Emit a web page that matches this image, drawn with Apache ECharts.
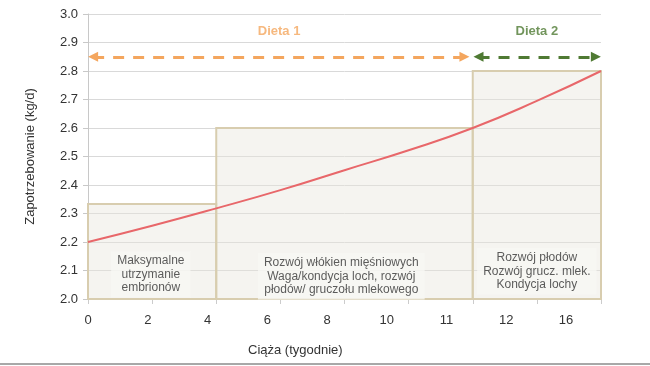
<!DOCTYPE html>
<html><head><meta charset="utf-8">
<script src="https://cdn.jsdelivr.net/npm/echarts@6/dist/echarts.min.js"></script>
<style>html,body{margin:0;padding:0;background:#fff}#c{width:650px;height:366px}</style>
</head><body><div id="c"></div>
<script>
// Data
var xTickLabels = ['0','2','4','6','8','10','11','12','16'];
var curveX = [0,1,2,3,4,5,6,7,8];
var curveY = [2.2,2.257,2.318,2.382,2.452,2.522,2.6,2.695,2.8];
var boxStart = [0,2,6];
var boxEnd = [2,6,8];
var boxTop = [2.333,2.6,2.8];
var boxText = ['Maksymalne\nutrzymanie\nembrionów','Rozwój włókien mięśniowych\nWaga/kondycja loch, rozwój\npłodów/ gruczołu mlekowego','Rozwój płodów\nRozwój grucz. mlek.\nKondycja lochy'];
var boxTextPos = [[0.98,2.086],[3.95,2.08],[7.0,2.097]];
var dietNames = ['Dieta 1','Dieta 2'];
var dietLabelPos = [[2.98,2.94],[7.0,2.94]];
var dietArrowY = 2.85;
var dietRanges = [[0.08,5.87],[6.09,7.92]];
var dietColors = ['#f4a65e','#4f7a33'];

var font = 'Liberation Sans, Arial, sans-serif';
var chart = echarts.init(document.getElementById('c'));

var areas = boxStart.map(function(s,i){return [{coord:[s,2.0]},{coord:[boxEnd[i],boxTop[i]]}];});

var series = [
 {type:'line', xAxisIndex:0, data: curveX.map(function(x,i){return [x,curveY[i]];}), smooth:true, symbol:'none',
  lineStyle:{color:'#e8676a', width:2}, z:5,
  markArea:{silent:true, itemStyle:{color:'rgba(232,229,220,0.42)', borderColor:'#d8cdaf', borderWidth:2}, data: areas}
 },
 {type:'scatter', xAxisIndex:0, symbolSize:0, z:6, silent:true,
  data: boxTextPos.map(function(p,i){return {value:p, label:{formatter: boxText[i]}};}),
  label:{show:true, position:'inside', color:'#333', fontSize:12, fontFamily:font, lineHeight:13.5, align:'center',
   backgroundColor:'#f8f7f4', padding:[3,6]}
 },
 {type:'scatter', xAxisIndex:0, symbolSize:0, z:6, silent:true,
  data: dietLabelPos.map(function(p,i){return {value:p, label:{formatter: dietNames[i], color: dietColors[i]}};}),
  label:{show:true, position:'inside', fontSize:13, fontWeight:'bold', fontFamily:font}
 }
];
dietRanges.forEach(function(r,i){
  series.push({type:'line', xAxisIndex:0, data:[], z:7,
    markLine:{silent:true, symbol:['triangle','triangle'], symbolSize:[10,10],
      lineStyle:{color:dietColors[i], type:[11,9], width:3}, label:{show:false},
      data:[[{coord:[r[0],dietArrowY]},{coord:[r[1],dietArrowY]}]]}});
});

chart.setOption({
  animation:false,
  textStyle:{fontFamily:font},
  grid:{left:88, right:49, top:14, bottom:67},
  xAxis:[
   {type:'value', min:0, max:8, interval:1, axisLabel:{show:false},
    axisLine:{show:true, lineStyle:{color:'#d8cdaf', width:2}},
    axisTick:{show:true, length:5, lineStyle:{color:'#ccc'}}, splitLine:{show:false}},
   {type:'value', min:0, max:8.586, interval:1, position:'bottom', axisLine:{show:false}, axisTick:{show:false}, splitLine:{show:false},
    showMaxLabel:false,
    axisLabel:{color:'#333', fontSize:13, margin:15, formatter:function(v){return xTickLabels[Math.round(v)]||'';}}}
  ],
  yAxis:{type:'value', min:2.0, max:3.0, interval:0.1,
    name:'Zapotrzebowanie (kg/d)', nameLocation:'middle', nameGap:51, nameTextStyle:{color:'#333', fontSize:13},
    axisLine:{show:true, lineStyle:{color:'#c8c8c8'}},
    axisTick:{show:true, length:5, lineStyle:{color:'#c8c8c8'}},
    splitLine:{lineStyle:{color:'#d9d9d9'}},
    axisLabel:{color:'#333', fontSize:13, margin:10, formatter:function(v){return v.toFixed(1);}}},
  graphic:[
    {type:'text', left:248, top:344, style:{text:'Ciąża (tygodnie)', fill:'#333', font:'13px '+font}},
    {type:'rect', left:0, top:363, shape:{width:650, height:2}, style:{fill:'#a8a8a8'}}
  ],
  series: series
});
</script></body></html>
